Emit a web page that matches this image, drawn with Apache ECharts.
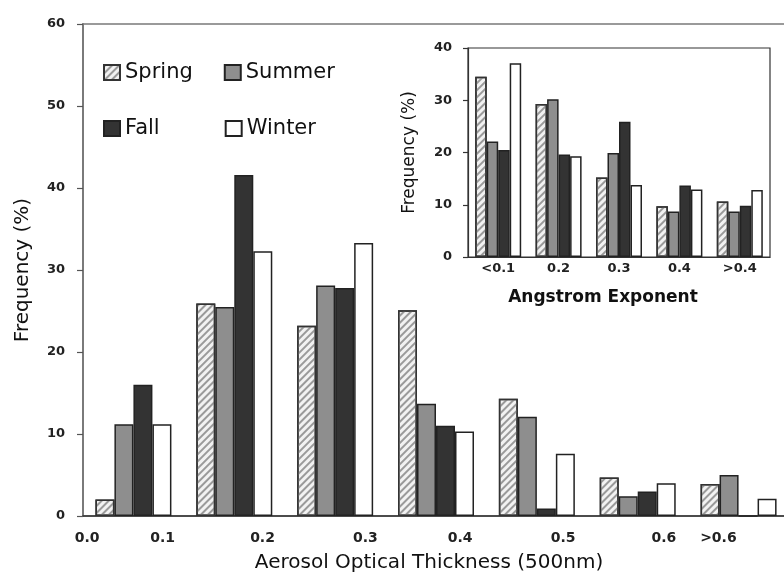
<!DOCTYPE html>
<html>
<head>
<meta charset="utf-8">
<script src="https://cdn.jsdelivr.net/npm/echarts@6/dist/echarts.min.js"></script>
<style>
html,body{margin:0;padding:0;background:#fff;}
#chart{width:784px;height:575px;}
</style>
</head>
<body>
<div id="chart"></div>
<script>
// ---- Data ----
const seasons = ['Spring', 'Summer', 'Fall', 'Winter'];
const aotBins = ['0.0-0.1', '0.1-0.2', '0.2-0.3', '0.3-0.4', '0.4-0.5', '0.5-0.6', '>0.6'];
const aotTickLabels = ['0.0', '0.1', '0.2', '0.3', '0.4', '0.5', '0.6', '>0.6'];
const springAOT = [2.0, 25.9, 23.2, 25.1, 14.3, 4.7, 3.9];
const summerAOT = [11.2, 25.5, 28.1, 13.7, 12.1, 2.4, 5.0];
const fallAOT   = [16.0, 41.6, 27.8, 11.0, 0.9, 3.0, 0];
const winterAOT = [11.2, 32.3, 33.3, 10.3, 7.6, 4.0, 2.1];

const angBins = ['<0.1', '0.2', '0.3', '0.4', '>0.4'];
const springAng = [34.5, 29.3, 15.2, 9.7, 10.6];
const summerAng = [22.1, 30.2, 19.9, 8.7, 8.7];
const fallAng   = [20.5, 19.6, 25.9, 13.7, 9.8];
const winterAng = [37.1, 19.3, 13.8, 12.9, 12.8];

// ---- Styles / layout ----
const FONT = 'DejaVu Sans';
const tickPos = [0.04, 0.79, 1.78, 2.80, 3.74, 4.76, 5.76, 6.30];
const border = '#222';
const styles = {
  Spring: { color: '#f2f2f2', borderColor: '#333', borderWidth: 1.5,
            decal: { symbol: 'rect', symbolSize: 1, dashArrayX: [1, 0], dashArrayY: [2, 2.5], rotation: -Math.PI / 4, color: '#9a9a9a' } },
  Summer: { color: '#8e8e8e', borderColor: border, borderWidth: 1.5 },
  Fall:   { color: '#333333', borderColor: border, borderWidth: 1.5 },
  Winter: { color: '#ffffff', borderColor: border, borderWidth: 1.5 }
};
const mainData = { Spring: springAOT, Summer: summerAOT, Fall: fallAOT, Winter: winterAOT };
const insetData = { Spring: springAng, Summer: summerAng, Fall: fallAng, Winter: winterAng };

const chart = echarts.init(document.getElementById('chart'), null, { renderer: 'canvas' });

const series = [];
seasons.forEach(function (s) {
  series.push({
    name: s, type: 'bar', xAxisIndex: 0, yAxisIndex: 0,
    data: mainData[s], barWidth: 19, barGap: '0%',
    itemStyle: styles[s], animation: false
  });
});
seasons.forEach(function (s) {
  series.push({
    name: s, type: 'bar', xAxisIndex: 2, yAxisIndex: 1,
    data: insetData[s], barWidth: 11.5, barGap: '0%',
    itemStyle: styles[s], animation: false
  });
});

const legendText = { fontFamily: FONT, fontSize: 21, color: '#111' };

const option = {
  backgroundColor: '#ffffff',
  animation: false,
  aria: { enabled: false },
  legend: [
    { data: ['Spring', 'Summer'], left: 103, top: 62, padding: 0, itemWidth: 16, itemHeight: 15, itemGap: 31,
      selectedMode: false, textStyle: legendText, icon: 'rect' },
    { data: ['Fall', 'Winter'], left: 103, top: 118, padding: 0, itemWidth: 16, itemHeight: 15, itemGap: 65,
      selectedMode: false, textStyle: legendText, icon: 'rect' }
  ],
  grid: [
    { left: 83, top: 24, width: 706, height: 492, show: true, borderColor: '#7a7a7a', borderWidth: 1.5,
      containLabel: false, outerBoundsMode: 'none' },
    { left: 468, top: 48, width: 302, height: 209, show: true, borderColor: '#333', borderWidth: 1.2,
      backgroundColor: '#fff', containLabel: false, outerBoundsMode: 'none' }
  ],
  xAxis: [
    { type: 'category', gridIndex: 0, data: aotBins, boundaryGap: true,
      axisLine: { show: true, lineStyle: { color: '#333', width: 1.5 } },
      axisTick: { show: false }, axisLabel: { show: false }, splitLine: { show: false },
      name: 'Aerosol Optical Thickness (500nm)', nameLocation: 'middle', nameGap: 37,
      nameTextStyle: { fontFamily: FONT, fontSize: 20, color: '#111', padding: [0, 14, 0, 0] } },
    { type: 'value', gridIndex: 0, min: 0, max: 7, position: 'bottom',
      axisLine: { show: false }, axisTick: { show: false }, splitLine: { show: false },
      axisLabel: { show: true, customValues: tickPos, margin: 15, fontFamily: FONT, fontWeight: 'bold', fontSize: 14, color: '#222',
        formatter: function (v) {
          let best = 0, d = 1e9;
          tickPos.forEach(function (p, i) { if (Math.abs(p - v) < d) { d = Math.abs(p - v); best = i; } });
          return aotTickLabels[best];
        } } },
    { type: 'category', gridIndex: 1, data: angBins, boundaryGap: true,
      axisLine: { show: true, lineStyle: { color: '#333', width: 1.2 } },
      axisTick: { show: false }, splitLine: { show: false },
      axisLabel: { margin: 5, fontFamily: FONT, fontWeight: 'bold', fontSize: 13, color: '#222' },
      name: 'Angstrom Exponent', nameLocation: 'middle', nameGap: 32,
      nameTextStyle: { fontFamily: FONT, fontWeight: 'bold', fontSize: 17, color: '#111', padding: [0, 32, 0, 0] } }
  ],
  yAxis: [
    { type: 'value', gridIndex: 0, min: 0, max: 60, interval: 10,
      axisLine: { show: true, lineStyle: { color: '#7a7a7a', width: 2 } },
      axisTick: { show: true, inside: false, length: 6, lineStyle: { color: '#555', width: 1.2 } },
      splitLine: { show: false },
      axisLabel: { margin: 18, fontFamily: FONT, fontWeight: 'bold', fontSize: 13, color: '#222' },
      name: 'Frequency (%)', nameLocation: 'middle', nameGap: 50, nameRotate: 90,
      nameTextStyle: { fontFamily: FONT, fontSize: 20, color: '#111' } },
    { type: 'value', gridIndex: 1, min: 0, max: 40, interval: 10,
      axisLine: { show: true, lineStyle: { color: '#333', width: 1.2 } },
      axisTick: { show: true, inside: false, length: 5, lineStyle: { color: '#333', width: 1.2 } },
      splitLine: { show: false },
      axisLabel: { margin: 16, fontFamily: FONT, fontWeight: 'bold', fontSize: 13, color: '#222' },
      name: 'Frequency (%)', nameLocation: 'middle', nameGap: 50, nameRotate: 90,
      nameTextStyle: { fontFamily: FONT, fontSize: 17, color: '#111' } }
  ],
  series: series
};
chart.setOption(option);
</script>
</body>
</html>
